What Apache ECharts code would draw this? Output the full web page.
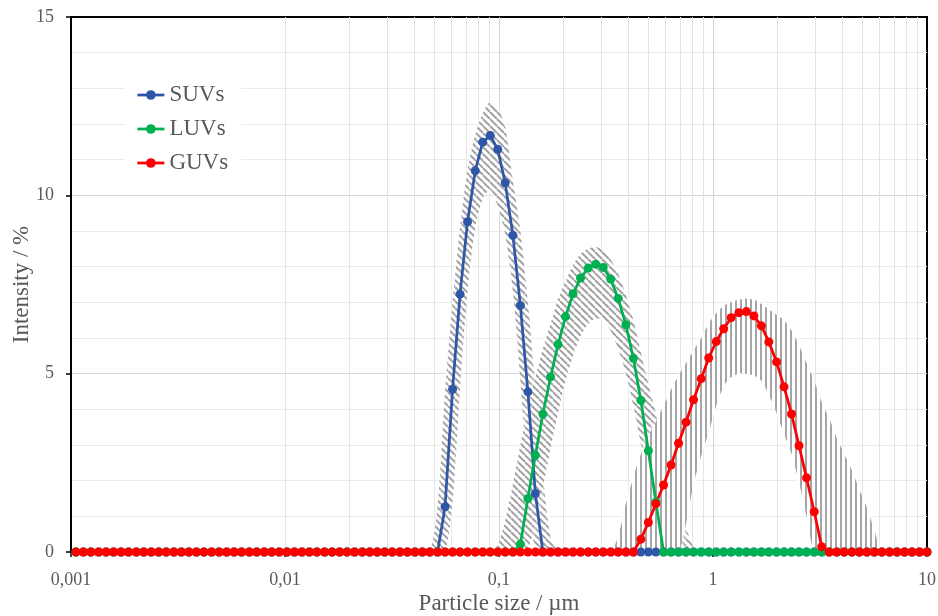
<!DOCTYPE html>
<html>
<head>
<meta charset="utf-8">
<script src="https://cdn.jsdelivr.net/npm/echarts@6/dist/echarts.min.js"></script>
<style>
  html, body { margin: 0; padding: 0; background: #fff; }
  #chart { width: 938px; height: 616px; }
</style>
</head>
<body>
<div id="chart"></div>
<script>
// log10 of the particle size (µm) of each size class
const sizeExp = [
  -2.977, -2.942, -2.907, -2.871, -2.836, -2.801, -2.766, -2.731, -2.695, -2.660,
  -2.625, -2.590, -2.555, -2.519, -2.484, -2.449, -2.414, -2.379, -2.343, -2.308,
  -2.273, -2.238, -2.203, -2.167, -2.132, -2.097, -2.062, -2.027, -1.991, -1.956,
  -1.921, -1.886, -1.851, -1.815, -1.780, -1.745, -1.710, -1.675, -1.639, -1.604,
  -1.569, -1.534, -1.499, -1.463, -1.428, -1.393, -1.358, -1.323, -1.287, -1.252,
  -1.217, -1.182, -1.147, -1.111, -1.076, -1.041, -1.006, -0.971, -0.935, -0.900,
  -0.865, -0.830, -0.795, -0.759, -0.724, -0.689, -0.654, -0.619, -0.583, -0.548,
  -0.513, -0.478, -0.443, -0.407, -0.372, -0.337, -0.302, -0.267, -0.231, -0.196,
  -0.161, -0.126, -0.091, -0.055, -0.020, 0.015, 0.050, 0.085, 0.121, 0.156,
  0.191, 0.226, 0.261, 0.297, 0.332, 0.367, 0.402, 0.437, 0.473, 0.508,
  0.543, 0.578, 0.613, 0.649, 0.684, 0.719, 0.754, 0.789, 0.825, 0.860,
  0.895, 0.930, 0.965, 1.000
];

// mean intensity (%) per size class
const suvIntensity = [
  0, 0, 0, 0, 0, 0, 0, 0, 0, 0,
  0, 0, 0, 0, 0, 0, 0, 0, 0, 0,
  0, 0, 0, 0, 0, 0, 0, 0, 0, 0,
  0, 0, 0, 0, 0, 0, 0, 0, 0, 0,
  0, 0, 0, 0, 0, 0, 0, 0, 0, 1.27,
  4.56, 7.23, 9.26, 10.69, 11.49, 11.68, 11.29, 10.35, 8.88, 6.91,
  4.49, 1.64, 0, 0, 0, 0, 0, 0, 0, 0,
  0, 0, 0, 0, 0, 0, 0, 0, 0, 0,
  0, 0, 0, 0, 0, 0, 0, 0, 0, 0,
  0, 0, 0, 0, 0, 0, 0, 0, 0, 0,
  0, 0, 0, 0, 0, 0, 0, 0, 0, 0,
  0, 0, 0, 0
];
const luvIntensity = [
  0, 0, 0, 0, 0, 0, 0, 0, 0, 0,
  0, 0, 0, 0, 0, 0, 0, 0, 0, 0,
  0, 0, 0, 0, 0, 0, 0, 0, 0, 0,
  0, 0, 0, 0, 0, 0, 0, 0, 0, 0,
  0, 0, 0, 0, 0, 0, 0, 0, 0, 0,
  0, 0, 0, 0, 0, 0, 0, 0, 0, 0.22,
  1.5, 2.71, 3.87, 4.91, 5.82, 6.6, 7.24, 7.68, 7.96, 8.07,
  7.98, 7.65, 7.11, 6.37, 5.43, 4.25, 2.84, 1.4, 0, 0,
  0, 0, 0, 0, 0, 0, 0, 0, 0, 0,
  0, 0, 0, 0, 0, 0, 0, 0, 0, 0,
  0, 0, 0, 0, 0, 0, 0, 0, 0, 0,
  0, 0, 0, 0
];
const guvIntensity = [
  0, 0, 0, 0, 0, 0, 0, 0, 0, 0,
  0, 0, 0, 0, 0, 0, 0, 0, 0, 0,
  0, 0, 0, 0, 0, 0, 0, 0, 0, 0,
  0, 0, 0, 0, 0, 0, 0, 0, 0, 0,
  0, 0, 0, 0, 0, 0, 0, 0, 0, 0,
  0, 0, 0, 0, 0, 0, 0, 0, 0, 0,
  0, 0, 0, 0, 0, 0, 0, 0, 0, 0,
  0, 0, 0, 0, 0, 0.36, 0.83, 1.35, 1.88, 2.44,
  3.05, 3.64, 4.27, 4.86, 5.44, 5.9, 6.26, 6.57, 6.71, 6.74,
  6.62, 6.34, 5.89, 5.33, 4.63, 3.87, 2.98, 2.08, 1.13, 0.15,
  0, 0, 0, 0, 0, 0, 0, 0, 0, 0,
  0, 0, 0, 0
];

// spread envelopes (upper / lower bound, %), listed from the size class given by *Start
const suvBandStart = 46;
const suvUpper = [0, 0, 1.3, 4.5, 7.0, 9.1, 10.7, 11.7, 12.3, 12.62, 12.45, 11.9, 10.4, 9.0, 7.0, 4.6, 2.2, 0.4, 0];
const suvLower = [0, 0, 0, 0, 1.4, 4.6, 7.3, 9.1, 9.9, 10.15, 9.7, 8.9, 7.3, 4.8, 1.9, 0, 0, 0, 0];

const luvBandStart = 55;
const luvUpper = [0, 0.2, 0.9, 1.9, 3.0, 4.0, 4.9, 5.7, 6.4, 7.1, 7.6, 8.05, 8.35, 8.5, 8.55,
  8.45, 8.2, 7.8, 7.2, 6.5, 5.6, 4.7, 3.9, 3.1, 2.3, 1.5, 0.7, 0.15, 0, 0];
const luvLower = [0, 0, 0, 0, 0, 0.1, 0.8, 1.8, 2.9, 3.9, 4.8, 5.5, 6.05, 6.4, 6.55,
  6.5, 6.2, 5.7, 5.0, 4.1, 3.0, 1.5, 0.1, 0, 0, 0, 0, 0, 0, 0];

const guvBandStart = 70;
const guvUpper = [0, 0, 0.45, 1.35, 2.1, 2.75, 3.25, 3.65, 4.1, 4.55, 4.95, 5.3, 5.65, 6.0, 6.4,
  6.7, 6.9, 7.0, 7.07, 7.1, 7.07, 6.95, 6.8, 6.65, 6.5, 6.2, 5.8, 5.3, 4.8, 4.2,
  3.75, 3.2, 2.75, 2.3, 1.75, 1.25, 0.6, 0, 0];
const guvLower = [0, 0, 0, 0, 0, 0, 0, 0, 0, 0, 0, 0.8, 1.9, 2.7, 3.35,
  4.1, 4.65, 4.9, 5.0, 5.0, 4.95, 4.8, 4.4, 3.9, 3.3, 2.75, 1.95, 1.0, 0, 0,
  0, 0, 0, 0, 0, 0, 0, 0, 0];

// intermediate vertical grid lines of the logarithmic size axis
const xMinorGrid = [
  0.002, 0.003, 0.004, 0.005, 0.006, 0.007, 0.008, 0.009,
  0.02, 0.03, 0.04, 0.05, 0.06, 0.07, 0.08, 0.09,
  0.2, 0.3, 0.4, 0.5, 0.6, 0.7, 0.8, 0.9,
  2, 3, 4, 5, 6, 7, 8, 9
];

const seriesNames = ['SUVs', 'LUVs', 'GUVs'];
const seriesColors = ['#2F56A7', '#00B050', '#FF0000'];

const FONT = 'Liberation Serif';
const TEXT = '#595959';

// hatch fills for the spread envelopes
function diagonalHatch() {
  const c = document.createElement('canvas');
  c.width = 7; c.height = 7;
  const g = c.getContext('2d');
  g.fillStyle = '#fff';
  g.fillRect(0, 0, 7, 7);
  g.strokeStyle = '#a2a2a2';
  g.lineWidth = 2;
  for (const o of [-7, 0, 7]) {
    g.beginPath();
    g.moveTo(o, 0);
    g.lineTo(o + 7, 7);
    g.stroke();
  }
  return c;
}
function verticalHatch() {
  const c = document.createElement('canvas');
  c.width = 5; c.height = 4;
  const g = c.getContext('2d');
  g.fillStyle = '#fff';
  g.fillRect(0, 0, 5, 4);
  g.fillStyle = '#a6a6a6';
  g.fillRect(0, 0, 2, 4);
  return c;
}

const sizes = sizeExp.map(e => Math.pow(10, e));
const toPoints = vals => vals.map((v, i) => [sizes[i], v]);

// closed outline: upper bound left to right, then lower bound back
function bandSeries(id, start, lower, upper, pattern) {
  return {
    name: id, type: 'custom', coordinateSystem: 'cartesian2d',
    silent: true, clip: true, z: 2,
    data: [[sizes[start], 0]],
    renderItem: function (params, api) {
      const top = upper.map((v, i) => api.coord([sizes[start + i], v]));
      const bottom = lower.map((v, i) => api.coord([sizes[start + i], v])).reverse().slice(1, -1);
      return {
        type: 'polygon',
        shape: { points: top.concat(bottom), smooth: 0.3 },
        style: { fill: { image: pattern, repeat: 'repeat' }, shadowBlur: 5, shadowColor: '#fff' }
      };
    }
  };
}

function meanSeries(idx, values) {
  return {
    name: seriesNames[idx], type: 'line', data: toPoints(values), z: 3,
    symbol: 'circle', symbolSize: 9, showAllSymbol: true,
    itemStyle: { color: seriesColors[idx] },
    lineStyle: { width: 2.75, color: seriesColors[idx] },
    emphasis: { disabled: true }
  };
}

const fmtSize = v => String(Number(v.toPrecision(4))).replace('.', ',');

const chart = echarts.init(document.getElementById('chart'), null, { renderer: 'canvas' });
chart.setOption({
  animation: false,
  backgroundColor: '#fff',
  grid: {
    left: 71, right: 11, top: 17, bottom: 64, outerBoundsMode: 'none', containLabel: false,
    show: true, borderColor: '#000', borderWidth: 2, backgroundColor: 'transparent'
  },
  legend: {
    data: seriesNames, orient: 'vertical', left: 125, top: 80,
    backgroundColor: '#fff', padding: [3, 13, 3, 11], itemGap: 10,
    itemWidth: 27, itemHeight: 12,
    lineStyle: { width: 2.75 },
    textStyle: { fontFamily: FONT, fontSize: 23, color: TEXT, lineHeight: 24 }
  },
  xAxis: {
    type: 'log', logBase: 10, min: 0.001, max: 10,
    name: 'Particle size / µm', nameLocation: 'middle', nameGap: 40, nameMoveOverlap: false,
    nameTextStyle: { fontFamily: FONT, fontSize: 23, color: TEXT },
    axisLine: { show: true, lineStyle: { color: '#000', width: 2 } },
    axisTick: { show: true, length: 5, lineStyle: { color: '#000', width: 1.5 } },
    axisLabel: { fontFamily: FONT, fontSize: 18, color: TEXT, margin: 19, formatter: fmtSize },
    splitLine: { show: true, showMinLine: false, showMaxLine: false, lineStyle: { color: '#d2d2d2', width: 1 } }
  },
  yAxis: {
    type: 'value', min: 0, max: 15, interval: 5,
    name: 'Intensity / %', nameLocation: 'middle', nameGap: 38, nameMoveOverlap: false,
    nameTextStyle: { fontFamily: FONT, fontSize: 23, color: TEXT },
    axisLine: { show: true, lineStyle: { color: '#000', width: 2 } },
    axisTick: { show: true, length: 5, lineStyle: { color: '#000', width: 1.5 } },
    axisLabel: { fontFamily: FONT, fontSize: 18, color: TEXT, margin: 17 },
    splitLine: { show: true, showMaxLine: false, lineStyle: { color: '#d6d6d6', width: 1 } },
    minorTick: { show: false, splitNumber: 5 },
    minorSplitLine: { show: true, lineStyle: { color: '#ebebeb', width: 1 } }
  },
  series: [
    {
      name: 'size-grid', type: 'line', data: [[1, 0]], symbol: 'none', silent: true,
      lineStyle: { opacity: 0 }, z: 1,
      markLine: {
        silent: true, symbol: 'none', z: 1, animation: false,
        label: { show: false }, emphasis: { disabled: true },
        lineStyle: { color: '#e4e4e4', width: 1, type: 'solid' },
        data: xMinorGrid.map(v => ({ xAxis: v }))
      }
    },
    bandSeries('suv-spread', suvBandStart, suvLower, suvUpper, diagonalHatch()),
    bandSeries('luv-spread', luvBandStart, luvLower, luvUpper, diagonalHatch()),
    bandSeries('guv-spread', guvBandStart, guvLower, guvUpper, verticalHatch()),
    meanSeries(0, suvIntensity),
    meanSeries(1, luvIntensity),
    meanSeries(2, guvIntensity)
  ]
});
</script>
</body>
</html>
